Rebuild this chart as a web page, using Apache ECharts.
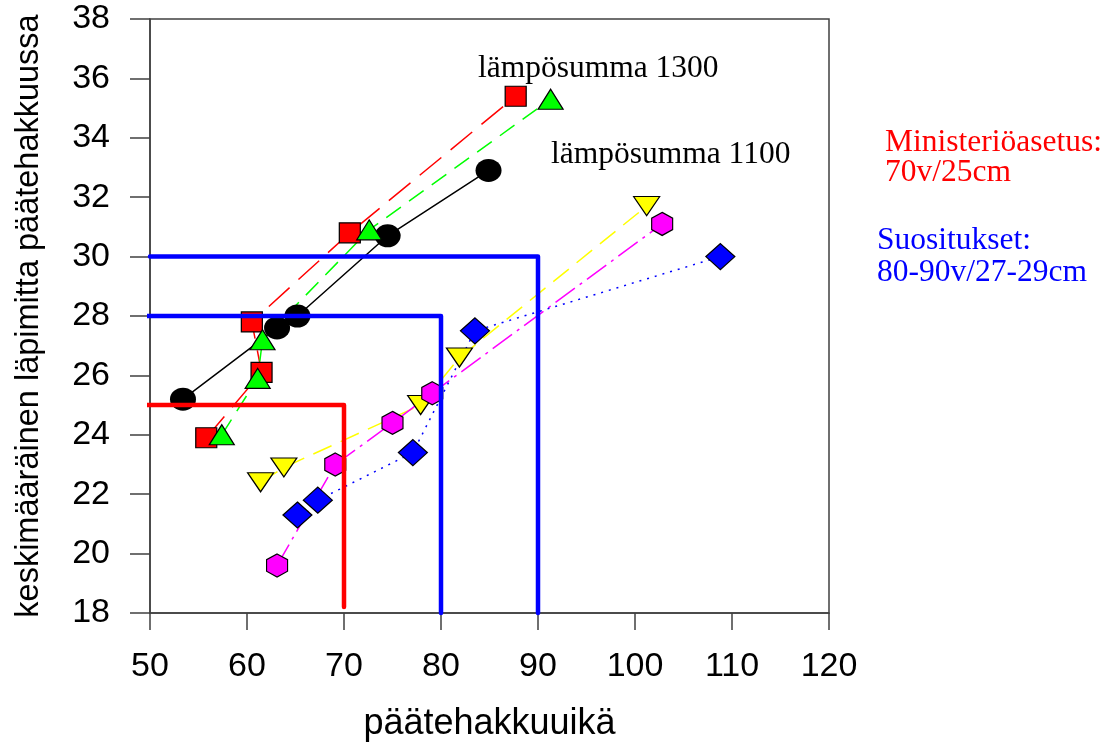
<!DOCTYPE html>
<html>
<head>
<meta charset="utf-8">
<script src="https://cdn.jsdelivr.net/npm/echarts@6/dist/echarts.min.js"></script>
<style>
  html, body { margin: 0; padding: 0; background: #fff; }
  #chart { width: 1112px; height: 747px; }
</style>
</head>
<body>
<div id="chart"></div>
<script>
// tick range
const xTicks = [50, 60, 70, 80, 90, 100, 110, 120];
const yTicks = [18, 20, 22, 24, 26, 28, 30, 32, 34, 36, 38];

// measured series: [age, diameter]
const blackCircles = [[53.4, 25.2], [63.1, 27.6], [65.2, 28.0], [74.5, 30.7], [84.9, 32.9]];
const redSquares = [[55.8, 23.9], [61.5, 26.1], [60.5, 27.8], [70.6, 30.8], [87.7, 35.4]];
const greenTriangles = [[57.4, 24.0], [61.1, 25.9], [61.6, 27.2], [72.6, 30.9], [91.3, 35.3]];
const yellowTriangles = [[61.4, 22.4], [63.8, 22.9], [77.9, 25.0], [81.9, 26.6], [101.2, 31.7]];
const magentaHexagons = [[63.1, 19.6], [69.1, 23.0], [75.0, 24.4], [79.1, 25.4], [102.8, 31.1]];
const blueDiamonds = [[65.2, 21.3], [67.3, 21.8], [77.1, 23.4], [83.5, 27.5], [108.8, 30.0]];

// regulation guide lines
const ministryLine = [[49, 25], [70, 25], [70, 18.2]];
const recommendLow = [[49.5, 28], [80, 28], [80, 18]];
const recommendHigh = [[50, 30], [90, 30], [90, 18]];

const hexagon = 'path://M0,-1 L0.866,-0.5 L0.866,0.5 L0,1 L-0.866,0.5 L-0.866,-0.5 Z';
const downTriangle = 'path://M-1,-1 L1,-1 L0,1 Z';

function markerSeries(data, color, symbol, size, lineType, lineColor) {
  return {
    type: 'line',
    data,
    symbol,
    symbolSize: size,
    showAllSymbol: true,
    z: 3,
    lineStyle: { color: lineColor, width: 1.5, type: lineType },
    itemStyle: { color, borderColor: '#000', borderWidth: color === '#000' ? 0 : 1.2 },
    animation: false
  };
}

function guideSeries(data, color) {
  return {
    type: 'line',
    data,
    symbol: 'none',
    z: 6,
    clip: false,
    lineStyle: { color, width: 4.5, cap: 'round', join: 'round' },
    animation: false
  };
}

const chart = echarts.init(document.getElementById('chart'));
const axisColor = '#404040';
const sans = "'Liberation Sans', Arial, sans-serif";
const serif = "'Liberation Serif', 'Times New Roman', serif";

chart.setOption({
  backgroundColor: '#fff',
  animation: false,
  grid: {
    left: 150, top: 19, right: 283, bottom: 129,
    show: true, borderColor: axisColor, borderWidth: 1.5, backgroundColor: 'transparent'
  },
  xAxis: {
    type: 'value',
    min: xTicks[0],
    max: xTicks[xTicks.length - 1],
    interval: 10,
    name: 'päätehakkuuikä',
    nameLocation: 'middle',
    nameGap: 93,
    nameTextStyle: { fontFamily: sans, fontSize: 36, color: '#000' },
    axisLine: { show: true, lineStyle: { color: axisColor, width: 1.5 } },
    axisTick: { show: true, length: 17, lineStyle: { color: axisColor, width: 1.5 } },
    axisLabel: { fontFamily: sans, fontSize: 34, color: '#000', margin: 37 },
    splitLine: { show: false }
  },
  yAxis: {
    type: 'value',
    min: yTicks[0],
    max: yTicks[yTicks.length - 1],
    interval: 2,
    name: 'keskimääräinen läpimitta päätehakkuussa',
    nameLocation: 'middle',
    nameGap: 104,
    nameTextStyle: { fontFamily: sans, fontSize: 32.5, color: '#000' },
    axisLine: { show: true, lineStyle: { color: axisColor, width: 1.5 } },
    axisTick: { show: true, length: 20, lineStyle: { color: axisColor, width: 1.5 } },
    axisLabel: { fontFamily: sans, fontSize: 34, color: '#000', margin: 40 },
    splitLine: { show: false }
  },
  series: [
    markerSeries(blackCircles, '#000', 'circle', [26, 23], 'solid', '#000'),
    markerSeries(redSquares, '#ff0000', 'rect', [21, 20], [28, 12], '#ff0000'),
    markerSeries(greenTriangles, '#00ff00', 'triangle', [25, 20], [18, 10], '#00ff00'),
    markerSeries(yellowTriangles, '#ffff00', downTriangle, [26, 19], [20, 10], '#ffff00'),
    markerSeries(magentaHexagons, '#ff00ff', hexagon, [21, 23], [24, 6, 3, 6], '#ff00ff'),
    markerSeries(blueDiamonds, '#0000ff', 'diamond', [29, 26], [2, 6], '#0000ff'),
    guideSeries(ministryLine, '#ff0000'),
    guideSeries(recommendLow, '#0000ff'),
    guideSeries(recommendHigh, '#0000ff')
  ],
  graphic: [
    { type: 'text', left: 478, top: 53, z: 10,
      style: { text: 'lämpösumma 1300', font: '31.5px ' + serif, fill: '#000' } },
    { type: 'text', left: 551, top: 139, z: 10,
      style: { text: 'lämpösumma 1100', font: '31.5px ' + serif, fill: '#000' } },
    { type: 'text', left: 885, top: 127, z: 10,
      style: { text: 'Ministeriöasetus:', font: '31.5px ' + serif, fill: '#ff0000' } },
    { type: 'text', left: 885, top: 157, z: 10,
      style: { text: '70v/25cm', font: '31.5px ' + serif, fill: '#ff0000' } },
    { type: 'text', left: 877, top: 225, z: 10,
      style: { text: 'Suositukset:', font: '31.5px ' + serif, fill: '#0000ff' } },
    { type: 'text', left: 877, top: 257, z: 10,
      style: { text: '80-90v/27-29cm', font: '31.5px ' + serif, fill: '#0000ff' } }
  ]
});
</script>
</body>
</html>
